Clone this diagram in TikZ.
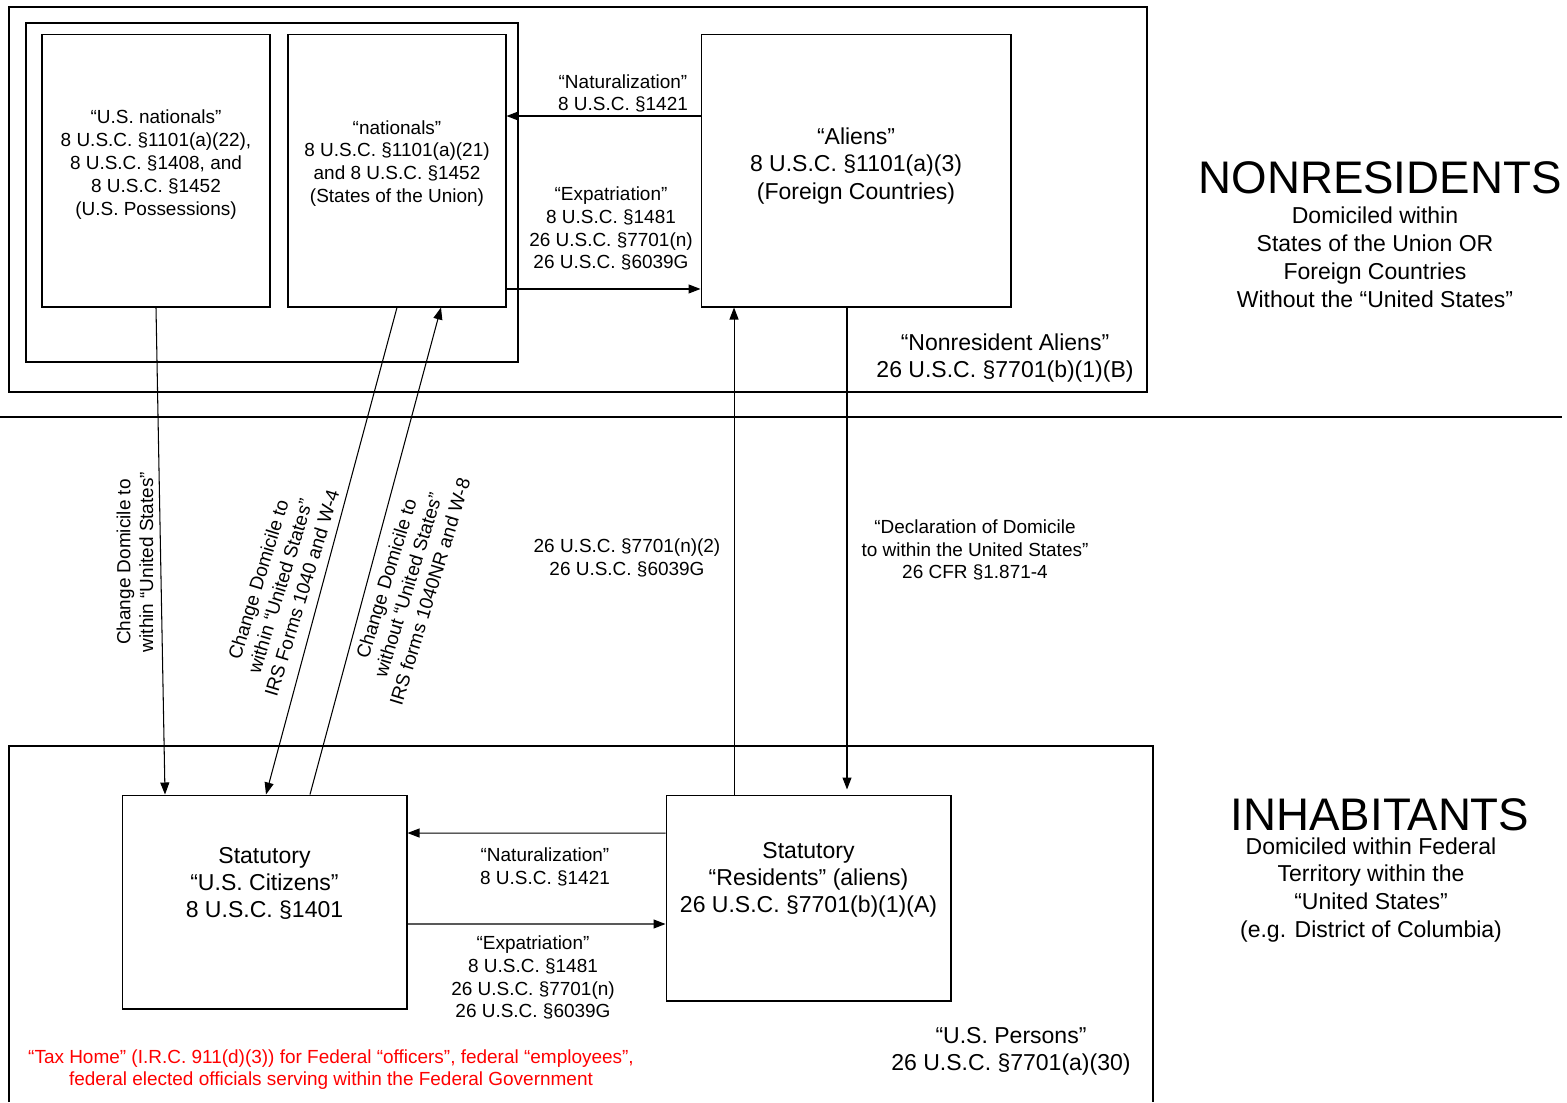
\documentclass[tikz,border=0pt]{standalone}
\usepackage{fontspec}
\setmainfont{Liberation Sans}
\usetikzlibrary{arrows.meta}
\tikzset{
  statbox/.style={draw, inner sep=0pt},
  lbl/.style={align=center, inner sep=0pt, font=\fontsize{10.8}{13}\selectfont},
  biglbl/.style={align=center, inner sep=0pt, font=\fontsize{13.1}{15.4}\selectfont},
  sidelbl/.style={align=center, inner sep=0pt, font=\fontsize{13.1}{15.9}\selectfont},
  bigtitle/.style={inner sep=0pt, font=\fontsize{26}{30}\selectfont},
  arr/.style={-{Triangle[length=2.4mm,width=1.8mm]}},
}
\begin{document}
\begin{tikzpicture}[x=0.02cm, y=-0.02cm, line width=0.6pt]
  \useasboundingbox (0,0) rectangle (1567,1102);

  % Nonresidents frame with the nationals
  \draw (9,7) rectangle (1147,392);
  \draw (26,23) rectangle (518,362);
  \node[statbox, minimum width=4.56cm, minimum height=5.46cm] (usnat) at (156,170.5) {};
  \node[lbl] (usnattxt) at ([yshift=0.12cm]usnat.center) {“U.S. nationals”\\8 U.S.C. §1101(a)(22),\\8 U.S.C. §1408, and\\8 U.S.C. §1452\\(U.S. Possessions)};
  \node[statbox, minimum width=4.36cm, minimum height=5.46cm] (nat) at (397,170.5) {};
  \node[lbl] (nattxt) at ([yshift=0.14cm]nat.center) {“nationals”\\8 U.S.C. §1101(a)(21)\\and 8 U.S.C. §1452\\(States of the Union)};
  \node[statbox, minimum width=6.2cm, minimum height=5.46cm] (aliens) at (856,170.5) {};
  \node[biglbl] (alienstxt) at ([yshift=0.09cm]aliens.center) {“Aliens”\\8 U.S.C. §1101(a)(3)\\(Foreign Countries)};
  \node[biglbl] (nralbl) at (1005,358.5) {“Nonresident Aliens”\\26 U.S.C. §7701(b)(1)(B)};

  % Dividing line
  \draw (0,417) -- (1562,417);

  % Inhabitants frame
  \draw (9,1102) -- (9,746) -- (1153,746) -- (1153,1102);
  \node[statbox, minimum width=5.7cm, minimum height=4.28cm] (citizen) at (264.5,902) {};
  \node[biglbl] (citizentxt) at ([yshift=0.38cm]citizen.center) {Statutory\\“U.S. Citizens”\\8 U.S.C. §1401};
  \node[statbox, minimum width=5.7cm, minimum height=4.12cm] (resid) at (808.5,898) {};
  \node[biglbl] (residtxt) at ([yshift=0.37cm]resid.center) {Statutory\\“Residents” (aliens)\\26 U.S.C. §7701(b)(1)(A)};
  \node[biglbl] (usplbl) at (1011,1051) {“U.S. Persons”\\26 U.S.C. §7701(a)(30)};
  \node[lbl, text=red] (taxhome) at (331,1069.5) {“Tax Home” (I.R.C. 911(d)(3)) for Federal “officers”, federal “employees”,\\federal elected officials serving within the Federal Government};

  % Side titles
  \node[bigtitle] (nrtitle) at (1380,178) {NONRESIDENTS};
  \node[sidelbl] (nrsub) at (1375,257) {Domiciled within\\States of the Union OR\\Foreign Countries\\Without the “United States”};
  \node[bigtitle] (inhtitle) at (1380,815) {INHABITANTS};
  \node[sidelbl] (inhsub) at (1371,890) {Domiciled within Federal\\Territory within the\\“United States”\\(e.g. District of Columbia)};

  % Arrows between nationals and aliens
  \draw[arr] ([yshift=1.09cm]aliens.west) -- ([yshift=1.09cm]nat.east);
  \node[lbl] (natlbl1) at (623,93.5) {“Naturalization”\\8 U.S.C. §1421};
  \draw[arr] ([yshift=-2.37cm]nat.east) -- ([yshift=-2.37cm]aliens.west);
  \node[lbl] (explbl1) at (611,228.5) {“Expatriation”\\8 U.S.C. §1481\\26 U.S.C. §7701(n)\\26 U.S.C. §6039G};

  % Arrows between citizens and residents
  \draw[arr] ([yshift=1.3cm]resid.west) -- ([yshift=1.38cm]citizen.east);
  \node[lbl] (natlbl2) at (545,866.5) {“Naturalization”\\8 U.S.C. §1421};
  \draw[arr] ([yshift=-0.44cm]citizen.east) -- ([yshift=-0.52cm]resid.west);
  \node[lbl] (explbl2) at (533,977.5) {“Expatriation”\\8 U.S.C. §1481\\26 U.S.C. §7701(n)\\26 U.S.C. §6039G};

  % Change of domicile
  \draw[arr] (usnat.south) -- ([xshift=-1.99cm]citizen.north);
  \node[lbl, rotate=90] (chglbl1) at (135,562) {Change Domicile to\\within “United States”};
  \draw[arr] (nat.south) -- ([xshift=0.03cm]citizen.north);
  \node[lbl, rotate=73] (chglbl2) at (280,586) {Change Domicile to\\within “United States”\\IRS Forms 1040 and W-4};
  \draw[arr] ([xshift=0.91cm]citizen.north) -- ([xshift=0.88cm]nat.south);
  \node[lbl, rotate=73] (chglbl3) at (408,585) {Change Domicile to\\without “United States”\\IRS forms 1040NR and W-8};

  % Residents and aliens
  \coordinate (upstart) at ([xshift=-1.49cm]resid.north);
  \draw[arr] (upstart) -- (upstart |- aliens.south);
  \node[lbl] (upl) at (627,557.5) {26 U.S.C. §7701(n)(2)\\26 U.S.C. §6039G};
  \coordinate (downstart) at ([xshift=-0.18cm]aliens.south);
  \draw[arr] (downstart) -- ([yshift=0.1cm]downstart |- resid.north);
  \node[lbl] (decl) at (975,550) {“Declaration of Domicile\\to within the United States”\\26 CFR §1.871-4};
\end{tikzpicture}
\end{document}
